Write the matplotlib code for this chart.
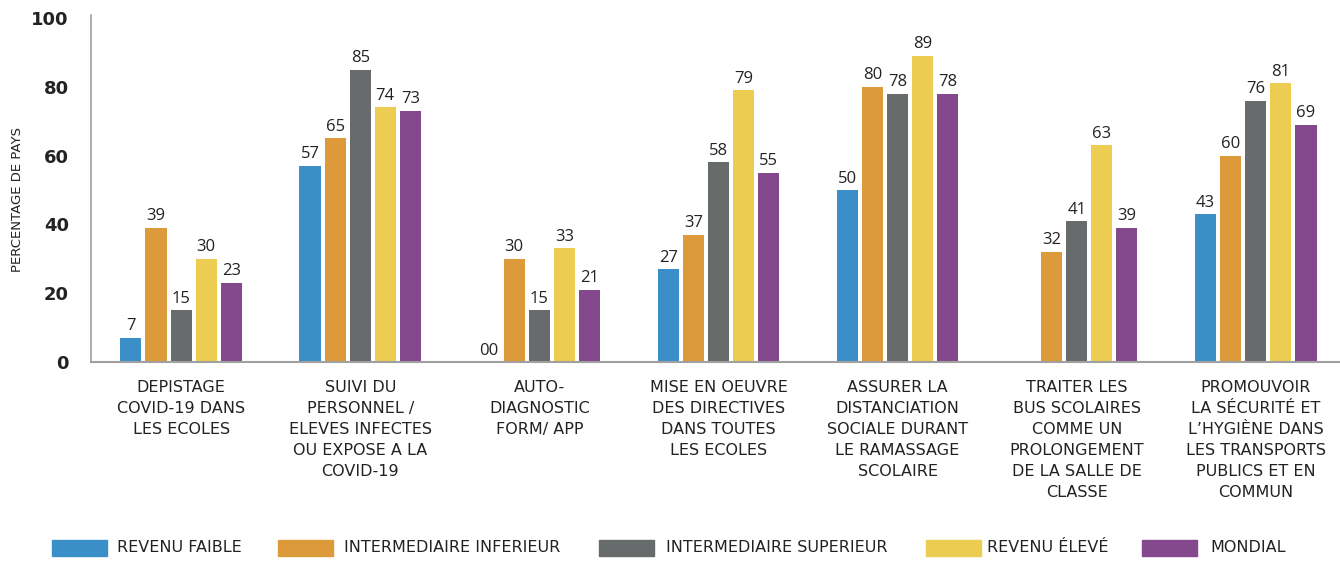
import matplotlib
matplotlib.use('Agg')
from matplotlib import pyplot as plt
from matplotlib.patches import Rectangle
import numpy as np

categories = [
    'DEPISTAGE\nCOVID-19 DANS\nLES ECOLES',
    'SUIVI DU\nPERSONNEL /\nELEVES INFECTES\nOU EXPOSE A LA\nCOVID-19',
    'AUTO-\nDIAGNOSTIC\nFORM/ APP',
    'MISE EN OEUVRE\nDES DIRECTIVES\nDANS TOUTES\nLES ECOLES',
    'ASSURER LA\nDISTANCIATION\nSOCIALE DURANT\nLE RAMASSAGE\nSCOLAIRE',
    'TRAITER LES\nBUS SCOLAIRES\nCOMME UN\nPROLONGEMENT\nDE LA SALLE DE\nCLASSE',
    'PROMOUVOIR\nLA SÉCURITÉ ET\nL\u2019HYGIÈNE DANS\nLES TRANSPORTS\nPUBLICS ET EN\nCOMMUN',
]
series_names = ['REVENU FAIBLE', 'INTERMEDIAIRE INFERIEUR',
                'INTERMEDIAIRE SUPERIEUR', 'REVENU ÉLEVÉ', 'MONDIAL']
revenu_faible = [7, 57, 0, 27, 50, 0, 43]
inter_inferieur = [39, 65, 30, 37, 80, 32, 60]
inter_superieur = [15, 85, 15, 58, 78, 41, 76]
revenu_eleve = [30, 74, 33, 79, 89, 63, 81]
mondial = [23, 73, 21, 55, 78, 39, 69]
# labels as printed (faible: "00" for auto-diagnostic, none for bus)
faible_labels = ['7', '57', '00', '27', '50', '', '43']

colors = ['#3A8FC8', '#DC9A3A', '#676B6B', '#ECCD52', '#84498C']

TXT = 'DejaVu Sans'
NUM = ['Open Sans', 'DejaVu Sans']


def main():
    fig = plt.figure(figsize=(13.4, 5.61), dpi=100)
    ax = fig.add_axes([0.0679, 0.3547, 0.9321, 0.6133])

    all_series = [revenu_faible, inter_inferieur, inter_superieur,
                  revenu_eleve, mondial]
    x = np.arange(len(categories))
    step = 0.14
    width = 0.118
    for j, vals in enumerate(all_series):
        xs = x + (j - 2) * step
        ax.bar(xs, vals, width=width, color=colors[j], zorder=2)
        labels = faible_labels if j == 0 else [str(v) for v in vals]
        for xi, v, lab in zip(xs, vals, labels):
            if lab:
                ax.text(xi, v + 1.0, lab, ha='center', va='bottom',
                        fontsize=12, family=NUM, color='#222222')

    ax.set_xlim(-0.503, 6.47)
    ax.set_ylim(0, 100)
    ax.set_yticks([0, 20, 40, 60, 80, 100])
    ax.set_yticklabels(['0', '20', '40', '60', '80', '100'],
                       family=TXT, fontsize=13, fontweight='bold',
                       color='#222222')
    ax.tick_params(axis='y', length=0, pad=16)
    ax.set_xticks([])
    for side in ['top', 'right']:
        ax.spines[side].set_visible(False)
    ax.spines['left'].set_color('#a0a0a0')
    ax.spines['bottom'].set_color('#a0a0a0')
    ax.spines['left'].set_linewidth(1.2)
    ax.spines['bottom'].set_linewidth(1.5)
    ax.spines['left'].set_bounds(0, 101)

    fig.text(18 / 1340, 1 - 200 / 561, 'PERCENTAGE DE PAYS', rotation=90,
             ha='center', va='center', family=TXT, fontsize=9.5,
             color='#222222')

    for i, cat in enumerate(categories):
        ax.text(i, -5.3, cat, ha='center', va='top', family=TXT,
                fontsize=11.5, linespacing=1.5, color='#222222',
                transform=ax.transData, clip_on=False)

    # legend
    patch_x = [52, 278, 599, 926, 1142]
    text_x = [117, 344, 666, 987, 1210]
    for j, name in enumerate(series_names):
        fig.patches.append(Rectangle(
            (patch_x[j] / 1340, 1 - 556 / 561), 55 / 1340, 16 / 561,
            transform=fig.transFigure, color=colors[j]))
        fig.text(text_x[j] / 1340, 1 - 548 / 561, name, ha='left',
                 va='center', family=TXT, fontsize=11.5, color='#222222')

    fig.savefig('out.png', dpi=100)


if __name__ == '__main__':
    main()
